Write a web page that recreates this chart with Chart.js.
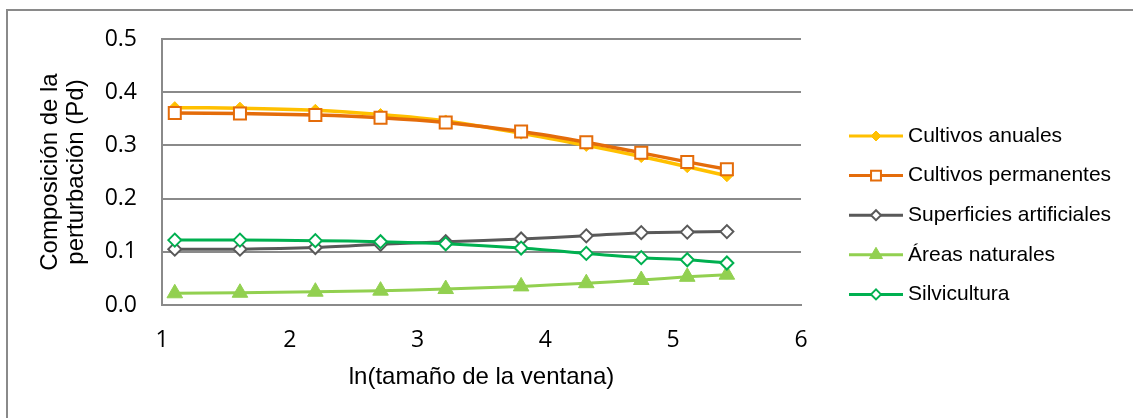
<!DOCTYPE html>
<html>
<head>
<meta charset="utf-8">
<script src="https://cdn.jsdelivr.net/npm/chart.js@4.4.0/dist/chart.umd.min.js"></script>
<style>
  html, body { margin: 0; padding: 0; background: #fff; overflow: hidden; }
  #wrap { position: relative; width: 1133px; height: 418px; overflow: hidden; }
  #frame { position: absolute; left: 6px; top: 9px; width: 1200px; height: 500px;
           border-left: 2px solid #8a8a8a; border-top: 2px solid #8a8a8a; }
  canvas { position: absolute; left: 0; top: 0; }
</style>
</head>
<body>
<div id="wrap">
  <div id="frame"></div>
  <canvas id="chart" width="1133" height="418"></canvas>
</div>
<script>
// ln(window size) on the x axis
const lnVentana = [1.10, 1.61, 2.20, 2.71, 3.22, 3.81, 4.32, 4.75, 5.11, 5.42];

// disturbance composition (Pd) per land-use class
const cultivosAnuales = [0.371, 0.370, 0.366, 0.358, 0.346, 0.323, 0.300, 0.279, 0.260, 0.243];
const cultivosPermanentes = [0.361, 0.360, 0.357, 0.352, 0.343, 0.326, 0.306, 0.286, 0.269, 0.255];
const superficiesArtificiales = [0.105, 0.105, 0.108, 0.114, 0.119, 0.124, 0.130, 0.136, 0.137, 0.138];
const areasNaturales = [0.022, 0.023, 0.025, 0.027, 0.030, 0.035, 0.041, 0.047, 0.053, 0.057];
const silvicultura = [0.122, 0.122, 0.121, 0.119, 0.115, 0.107, 0.097, 0.089, 0.085, 0.079];

const seriesNames = ["Cultivos anuales", "Cultivos permanentes", "Superficies artificiales", "Áreas naturales", "Silvicultura"];
const xTicks = [1, 2, 3, 4, 5, 6];
const yTicks = [0, 0.1, 0.2, 0.3, 0.4, 0.5];

const GRID = "#8a8a8a";
const TICK_FONT = { family: "'Open Sans', sans-serif", size: 23 };
const TEXT_FONT = "'Liberation Sans', Arial, sans-serif";

function points(values) {
  return lnVentana.map((x, i) => ({ x: x, y: values[i] }));
}

const styles = [
  { color: "#FFC000", fill: "#FFC000", shape: "rectRot", r: 6, lr: 5, bw: 1, lw: 3.5 },
  { color: "#E46C0A", fill: "#FFFFFF", shape: "rect", r: 8.5, lr: 7, bw: 2, lw: 3.5 },
  { color: "#595959", fill: "#FFFFFF", shape: "rectRot", r: 6.5, lr: 5, bw: 2, lw: 3 },
  { color: "#92D050", fill: "#92D050", shape: "triangle", r: 9, lr: 7.5, bw: 1, lw: 3 },
  { color: "#00B050", fill: "#FFFFFF", shape: "rectRot", r: 6.5, lr: 5, bw: 2, lw: 3 },
];
const seriesValues = [cultivosAnuales, cultivosPermanentes, superficiesArtificiales, areasNaturales, silvicultura];

const datasets = seriesValues.map((vals, i) => ({
  label: seriesNames[i],
  data: points(vals),
  borderColor: styles[i].color,
  backgroundColor: styles[i].fill,
  borderWidth: styles[i].lw,
  pointStyle: styles[i].shape,
  pointRadius: styles[i].r,
  pointBorderWidth: styles[i].bw,
  pointBorderColor: styles[i].color,
  pointBackgroundColor: styles[i].fill,
  tension: 0.25,
  order: 5 - i, // later series on top
}));

function drawMarker(ctx, shape, x, y, r) {
  ctx.beginPath();
  if (shape === "rect") {
    const s = r * Math.SQRT1_2;
    ctx.rect(x - s, y - s, 2 * s, 2 * s);
  } else if (shape === "rectRot") {
    ctx.moveTo(x - r, y);
    ctx.lineTo(x, y - r);
    ctx.lineTo(x + r, y);
    ctx.lineTo(x, y + r);
    ctx.closePath();
  } else {
    const h = r * Math.sin(Math.PI / 3);
    ctx.moveTo(x, y - r);
    ctx.lineTo(x + h, y + r / 2);
    ctx.lineTo(x - h, y + r / 2);
    ctx.closePath();
  }
  ctx.fill();
  ctx.stroke();
}

// legend on the right: line sample with marker, then the name
const sideLegend = {
  id: "sideLegend",
  afterDraw(chart) {
    const ctx = chart.ctx;
    const x0 = 849, x1 = 903, tx = 908, y0 = 136, step = 39.6;
    ctx.save();
    seriesNames.forEach((name, i) => {
      const st = styles[i];
      const y = y0 + i * step;
      ctx.strokeStyle = st.color;
      ctx.lineWidth = 3;
      ctx.beginPath();
      ctx.moveTo(x0, y);
      ctx.lineTo(x1, y);
      ctx.stroke();
      ctx.fillStyle = st.fill;
      ctx.lineWidth = st.bw;
      drawMarker(ctx, st.shape, (x0 + x1) / 2, y, st.lr);
      ctx.fillStyle = "#000";
      ctx.font = "21px " + TEXT_FONT;
      ctx.textBaseline = "middle";
      ctx.textAlign = "left";
      ctx.fillText(name, tx, y);
    });
    ctx.restore();
  },
};

new Chart(document.getElementById("chart"), {
  type: "line",
  data: { datasets: datasets },
  options: {
    responsive: false,
    animation: false,
    devicePixelRatio: 1,
    layout: { padding: { left: 0, top: 39, right: 332, bottom: 0 } },
    plugins: { legend: { display: false }, tooltip: { enabled: false } },
    scales: {
      x: {
        type: "linear",
        min: xTicks[0],
        max: xTicks[xTicks.length - 1],
        afterBuildTicks: (s) => { s.ticks = xTicks.map((v) => ({ value: v })); },
        afterFit: (s) => { s.height = 113; },
        grid: { display: false, drawTicks: false },
        border: { display: true, color: GRID, width: 2 },
        ticks: { font: TICK_FONT, color: "#000", padding: 22, maxRotation: 0 },
        title: {
          display: true,
          text: "ln(tamaño de la ventana)",
          color: "#000",
          font: { family: TEXT_FONT, size: 24, lineHeight: 1.1 },
          padding: { top: 0, bottom: 27 },
        },
      },
      y: {
        min: yTicks[0],
        max: yTicks[yTicks.length - 1],
        afterBuildTicks: (s) => { s.ticks = yTicks.map((v) => ({ value: v })); },
        afterFit: (s) => { s.width = 162; },
        grid: { color: GRID, lineWidth: 2, drawTicks: false },
        border: { display: true, color: GRID, width: 2 },
        ticks: { font: TICK_FONT, color: "#000", padding: 25, callback: (v) => v.toFixed(1) },
        title: {
          display: true,
          text: ["Composición de la", "perturbación (Pd)"],
          color: "#000",
          font: { family: TEXT_FONT, size: 24, lineHeight: 1.1 },
          padding: { top: 37, bottom: 0 },
        },
      },
    },
  },
  plugins: [sideLegend],
});
</script>
</body>
</html>
